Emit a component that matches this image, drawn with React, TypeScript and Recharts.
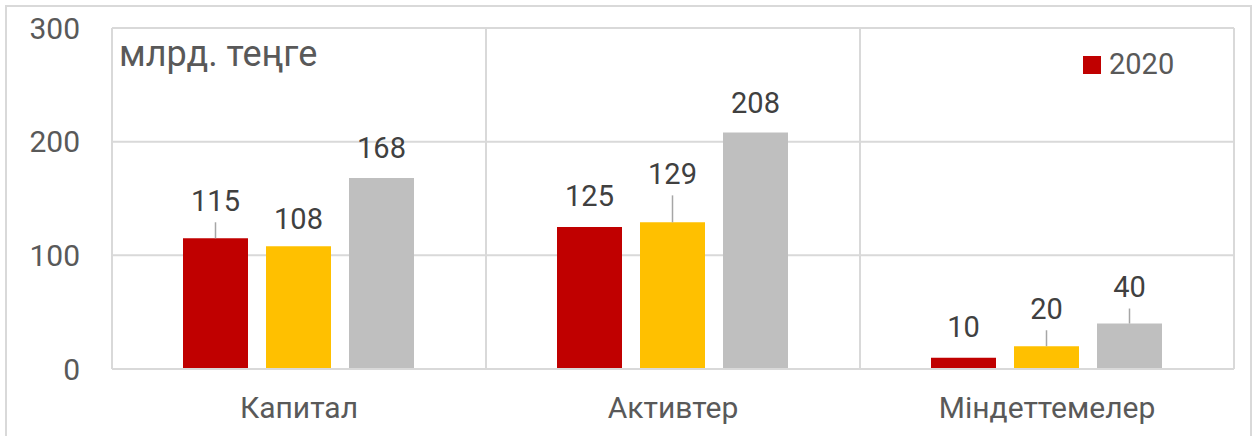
import React from "react";
import { BarChart, Bar, XAxis, YAxis, CartesianGrid, Legend, LabelList } from "recharts";

const categories = ["Капитал", "Активтер", "Міндеттемелер"];
const seriesNames = ["2020", "2021", "2022"];
const values2020 = [115, 125, 10];
const values2021 = [108, 129, 20];
const values2022 = [168, 208, 40];
const yTicks = [0, 100, 200, 300];
const unitLabel = "млрд. теңге";

// extra upward displacement (px) of individual data labels, as placed in the original
const labelLift2020 = [8, 1, 1];
const labelLift2021 = [-2, 19, 8];
const labelLift2022 = [0, 0, 7];

const colors = ["#C00000", "#FFC000", "#BFBFBF"];
const GRID = "#d9d9d9";
const FONT = "Roboto, 'Noto Sans', sans-serif";

const data = categories.map((c, i) => ({
  name: c,
  s2020: values2020[i],
  s2021: values2021[i],
  s2022: values2022[i],
}));

const makeLabel = (lifts: number[]) => (props: any) => {
  const { x, y, width, value, index } = props;
  const lift = lifts[index] || 0;
  const cx = Number(x) + Number(width) / 2;
  const cy = Number(y) - 30 - lift;
  return (
    <g>
      {lift > 4 && (
        <line x1={cx} x2={cx} y1={cy + 22} y2={Number(y)} stroke="#a6a6a6" strokeWidth={1.5} />
      )}
      <text x={cx} y={cy} dy="0.355em" textAnchor="middle" fontSize={29} fill="#404040" fontFamily={FONT}>
        {value}
      </text>
    </g>
  );
};

const LegendContent = (props: any) => {
  const items = (props.payload || []).filter((p: any) => p.value === seriesNames[0]);
  return (
    <svg width={140} height={30} style={{ display: "block", overflow: "visible" }}>
      {items.map((p: any) => (
        <g key={p.value}>
          <rect x={3} y={2} width={18} height={18} fill={p.color} />
          <text x={29} y={20} fontSize={29} fill="#595959" fontFamily={FONT}>
            {p.value}
          </text>
        </g>
      ))}
    </svg>
  );
};

export default function App() {
  return (
    <div style={{ position: "absolute", left: 0, top: 0, width: 1259, height: 450, background: "#fff" }}>
      <div
        style={{
          position: "absolute",
          left: 5,
          top: 5,
          width: 1247,
          height: 440,
          border: `2px solid ${GRID}`,
          boxSizing: "border-box",
        }}
      />
      <div style={{ position: "absolute", left: 0, top: 0 }}>
        <BarChart
          width={1259}
          height={450}
          data={data}
          margin={{ top: 28, right: 25, left: 52, bottom: 21 }}
          barCategoryGap={71}
          barGap={18}
          style={{ fontFamily: FONT }}
        >
          <CartesianGrid
            stroke={GRID}
            strokeWidth={2}
            verticalCoordinatesGenerator={(p: any) => {
              const o = p.offset;
              return categories.map((_, i) => o.left + (o.width * i) / categories.length).concat([o.left + o.width]);
            }}
          />
          <XAxis
            dataKey="name"
            height={30}
            tickSize={0}
            tickMargin={28}
            axisLine={{ stroke: GRID, strokeWidth: 2 }}
            tickLine={false}
            tick={{ fontSize: 30, fill: "#595959", fontFamily: FONT }}
          />
          <YAxis
            width={60}
            domain={[0, 300]}
            ticks={yTicks}
            tickSize={0}
            tickMargin={32}
            axisLine={false}
            tickLine={false}
            tick={{ fontSize: 30, fill: "#595959", fontFamily: FONT }}
          />
          <Legend
            content={LegendContent}
            wrapperStyle={{ position: "absolute", left: 1080, top: 54, width: 140, height: 30 }}
          />
          <Bar dataKey="s2020" name={seriesNames[0]} fill={colors[0]} isAnimationActive={false}>
            <LabelList dataKey="s2020" content={makeLabel(labelLift2020)} />
          </Bar>
          <Bar dataKey="s2021" name={seriesNames[1]} fill={colors[1]} isAnimationActive={false}>
            <LabelList dataKey="s2021" content={makeLabel(labelLift2021)} />
          </Bar>
          <Bar dataKey="s2022" name={seriesNames[2]} fill={colors[2]} isAnimationActive={false}>
            <LabelList dataKey="s2022" content={makeLabel(labelLift2022)} />
          </Bar>
        </BarChart>
      </div>
      <svg width={400} height={80} style={{ position: "absolute", left: 0, top: 0, pointerEvents: "none" }}>
        <text x={119} y={66} fontSize={36} fill="#595959" fontFamily={FONT}>
          {unitLabel}
        </text>
      </svg>
    </div>
  );
}
